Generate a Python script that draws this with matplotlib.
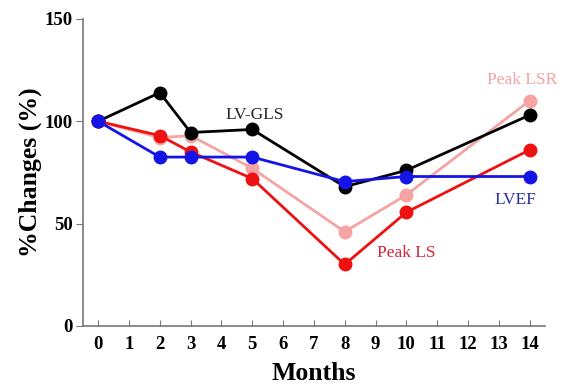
import matplotlib
matplotlib.use("Agg")
from matplotlib import pyplot as plt

months = [0, 2, 3, 5, 8, 10, 14]
peak_lsr = [100, 92, 93, 77, 46, 64, 110]
peak_ls = [100, 93, 85, 72, 30, 55.5, 86]
lv_gls = [100, 114, 94.5, 96, 68, 76, 103]
lvef = [100, 82.5, 82.5, 82.5, 70.5, 73, 73]
x_ticks = list(range(0, 15))
y_ticks = [0, 50, 100, 150]

plt.rcParams['font.family'] = ['Liberation Serif', 'DejaVu Serif']

fig = plt.figure(figsize=(5.63, 3.87), dpi=100)
ax = fig.add_axes([0.147, 0.158, 0.821, 0.793])

ax.plot(months, peak_lsr, '-o', color='#f5a3a3', lw=2, ms=9, zorder=2)
ax.plot(months, peak_ls, '-o', color='#ee1111', lw=2, ms=9, zorder=3)
ax.plot(months, lv_gls, '-o', color='black', lw=2, ms=9, zorder=4)
ax.plot(months, lvef, '-o', color='#1414e6', lw=2, ms=9, zorder=5)

ax.text(5.08, 103, 'LV-GLS', color='#222222', fontsize=12.5, ha='center', va='center')
ax.text(13.75, 120, 'Peak LSR', color='#f5a3a3', fontsize=12.5, ha='center', va='center')
ax.text(13.55, 61.5, 'LVEF', color='#2a2aa0', fontsize=12.5, ha='center', va='center')
ax.text(10.0, 35.5, 'Peak LS', color='#d8243a', fontsize=12.5, ha='center', va='center')

ax.set_xlim(-0.5, 14.5)
ax.set_ylim(0, 150)
ax.set_xticks(x_ticks)
ax.set_yticks(y_ticks)
ax.tick_params(axis='x', direction='in', length=4, color='#777777', labelsize=13.5, pad=7)
ax.tick_params(axis='y', direction='out', length=5, color='#777777', labelsize=13.5, pad=2)
for lab in ax.get_xticklabels() + ax.get_yticklabels():
    lab.set_fontweight('bold')

for s in ['top', 'right']:
    ax.spines[s].set_visible(False)
for s in ['left', 'bottom']:
    ax.spines[s].set_color('#777777')
    ax.spines[s].set_linewidth(1.2)

ax.set_xlabel('Months', fontsize=18.5, fontweight='bold', labelpad=7)
ax.set_ylabel('%Changes (%)', fontsize=18.5, fontweight='bold', labelpad=2)

fig.savefig('out.png', dpi=100)
